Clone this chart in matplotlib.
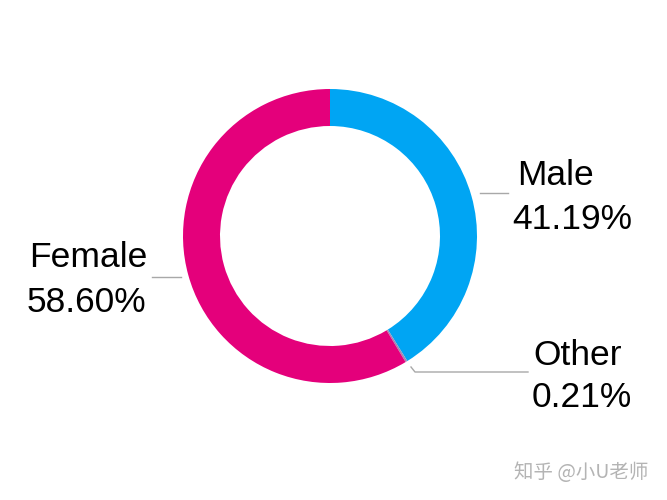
import matplotlib.pyplot as plt

# data
labels = ["Male", "Other", "Female"]
values = [41.19, 0.21, 58.60]
colors = ["#00a5f3", "#a08cb4", "#e4007b"]

W, H = 667, 500


def py(y):
    # pixel y (top-down) -> data y (bottom-up)
    return H - y


fig = plt.figure(figsize=(6.67, 5.0), dpi=100)
ax = fig.add_axes([0, 0, 1, 1])

ax.pie(values, colors=colors, startangle=90, counterclock=False,
       center=(330, py(236)), radius=147,
       wedgeprops=dict(width=37, edgecolor="none"))
# pie() resets the limits, so set them afterwards
ax.set_xlim(0, W)
ax.set_ylim(0, H)
ax.set_aspect("equal")
ax.axis("off")

font = "Liberation Sans"
fs = 25.5
lc = "#a8a8a8"

# Male
ax.plot([480, 508], [py(193), py(193)], color=lc, lw=1)
ax.text(517, py(185), labels[0], fontsize=fs, family=font, va="baseline")
ax.text(512, py(229), f"{values[0]:.2f}%", fontsize=fs, family=font, va="baseline")

# Female
ax.plot([152, 181], [py(277), py(277)], color=lc, lw=1)
ax.text(147, py(267), labels[2], fontsize=fs, family=font, va="baseline", ha="right")
ax.text(146, py(312), f"{values[2]:.2f}%", fontsize=fs, family=font, va="baseline", ha="right")

# Other
ax.plot([411, 415, 528], [py(367), py(372), py(372)], color=lc, lw=1)
ax.text(533, py(365), labels[1], fontsize=fs, family=font, va="baseline")
ax.text(532, py(407), f"{values[1]:.2f}%", fontsize=fs, family=font, va="baseline")

# watermark
ax.text(648, py(473), "知乎 @小U老师", fontsize=14, color="#b4b4b4",
        family=["Noto Sans CJK SC", "DejaVu Sans"], ha="right", va="center")

fig.savefig("out.png", dpi=100)
